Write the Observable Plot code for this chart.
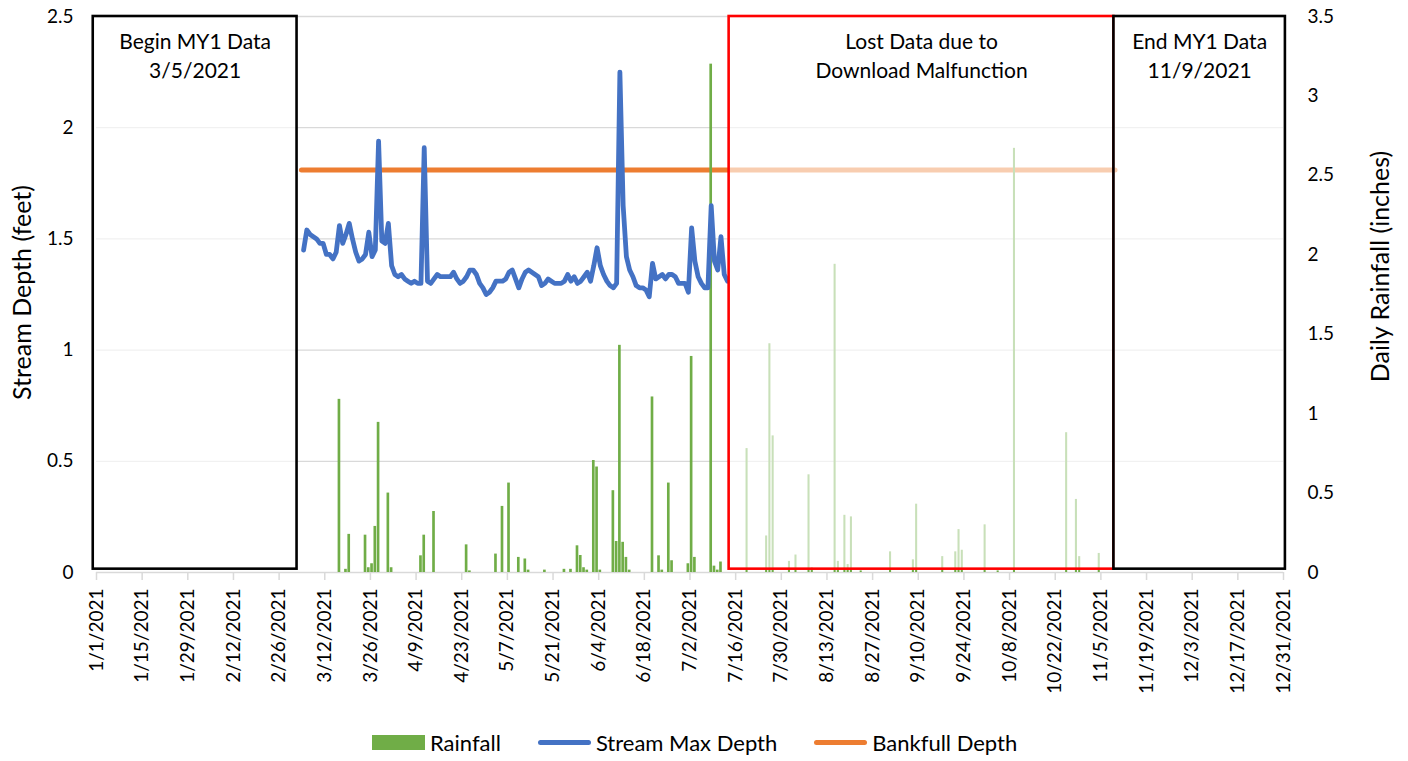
<!DOCTYPE html>
<html>
<head>
<meta charset="utf-8">
<script src="https://cdn.jsdelivr.net/npm/d3@7"></script>
<script src="https://cdn.jsdelivr.net/npm/@observablehq/plot@0.6"></script>
<style>
  html, body { margin: 0; padding: 0; background: #fff; }
  #wrap { position: relative; width: 1408px; height: 761px; font-family: Lato, "Noto Sans", sans-serif; color: #000; }
  #legend { position: absolute; top: 728px; left: 372px; display: flex; align-items: center; height: 28px; font-size: 22px; }
  #legend .sw { display: inline-block; }
  #legend .lab { margin-left: 5px; margin-right: 37px; }
</style>
</head>
<body>
<div id="wrap"><div id="chart"></div><div id="legend"></div></div>
<script>
// ---------------- DATA ----------------
const seriesNames = ["Rainfall", "Stream Max Depth", "Bankfull Depth"];
const seriesColors = ["#70AD47", "#4472C4", "#ED7D31"];

// Stream max depth (feet), daily from 3/5/2021
const depthStart = "2021-03-05";
const depthValues = [
  1.45, 1.54, 1.52, 1.51, 1.50, 1.48, 1.48, 1.43, 1.43, 1.41,
  1.44, 1.56, 1.48, 1.52, 1.57, 1.50, 1.44, 1.40, 1.41, 1.43,
  1.53, 1.42, 1.45, 1.94, 1.49, 1.48, 1.57, 1.38, 1.34, 1.33,
  1.34, 1.32, 1.31, 1.30, 1.31, 1.30, 1.30, 1.91, 1.31, 1.30,
  1.32, 1.34, 1.33, 1.33, 1.33, 1.33, 1.35, 1.32, 1.30, 1.31,
  1.33, 1.36, 1.36, 1.34, 1.30, 1.28, 1.25, 1.26, 1.28, 1.31,
  1.31, 1.31, 1.32, 1.35, 1.36, 1.32, 1.28, 1.32, 1.35, 1.36,
  1.35, 1.34, 1.33, 1.29, 1.30, 1.32, 1.31, 1.30, 1.30, 1.30,
  1.31, 1.34, 1.31, 1.33, 1.30, 1.31, 1.33, 1.35, 1.31, 1.38,
  1.46, 1.38, 1.34, 1.31, 1.29, 1.28, 1.30, 2.25, 1.65, 1.42,
  1.36, 1.33, 1.29, 1.28, 1.28, 1.27, 1.24, 1.39, 1.32, 1.33,
  1.34, 1.32, 1.34, 1.34, 1.33, 1.30, 1.30, 1.30, 1.26, 1.55,
  1.40, 1.33, 1.30, 1.28, 1.28, 1.65, 1.40, 1.36, 1.51, 1.34,
  1.31
];

// Daily rainfall (inches), recorded period
const rainDates = [
  "2021-03-16", "2021-03-18", "2021-03-19", "2021-03-24", "2021-03-25", "2021-03-26", "2021-03-27", "2021-03-28",
  "2021-03-31", "2021-04-01", "2021-04-10", "2021-04-11", "2021-04-14", "2021-04-24", "2021-04-25",
  "2021-05-03", "2021-05-05", "2021-05-07", "2021-05-10", "2021-05-12", "2021-05-13", "2021-05-18",
  "2021-05-24", "2021-05-26", "2021-05-28", "2021-05-29", "2021-05-30", "2021-05-31",
  "2021-06-02", "2021-06-03", "2021-06-04", "2021-06-08", "2021-06-09", "2021-06-10", "2021-06-11",
  "2021-06-12", "2021-06-13", "2021-06-20", "2021-06-22", "2021-06-23", "2021-06-25", "2021-06-26",
  "2021-07-01", "2021-07-02", "2021-07-03", "2021-07-08", "2021-07-09", "2021-07-10", "2021-07-11"
];
const rainValues = [
  1.09, 0.02, 0.24, 0.235, 0.03, 0.055, 0.29, 0.945,
  0.50, 0.03, 0.105, 0.235, 0.384, 0.174, 0.01,
  0.116, 0.416, 0.563, 0.095, 0.085, 0.015, 0.015,
  0.02, 0.02, 0.168, 0.107, 0.03, 0.015,
  0.705, 0.664, 0.015, 0.515, 0.195, 1.43, 0.19,
  0.095, 0.015, 1.105, 0.105, 0.015, 0.563, 0.074,
  0.055, 1.36, 0.095, 3.20, 0.04, 0.015, 0.066
];

// Daily rainfall (inches), lost-data period (shown faded)
const lostRainDates = [
  "2021-07-19", "2021-07-25", "2021-07-26", "2021-07-27", "2021-08-01", "2021-08-03", "2021-08-07", "2021-08-08",
  "2021-08-15", "2021-08-16", "2021-08-18", "2021-08-19", "2021-08-20", "2021-08-23", "2021-09-01",
  "2021-09-08", "2021-09-09", "2021-09-17", "2021-09-21", "2021-09-22", "2021-09-23", "2021-09-30",
  "2021-10-04", "2021-10-09", "2021-10-25", "2021-10-28", "2021-10-29", "2021-11-04"
];
const lostRainValues = [
  0.78, 0.23, 1.44, 0.86, 0.07, 0.11, 0.615, 0.03,
  1.94, 0.07, 0.36, 0.05, 0.35, 0.01, 0.13,
  0.08, 0.43, 0.10, 0.13, 0.27, 0.14, 0.30,
  0.01, 2.67, 0.88, 0.46, 0.10, 0.12
];

const bankfullDepth = 1.81;
const bankfullStart = "2021-03-05";
const bankfullEnd = "2021-11-09";

const xTickLabels = [
  "1/1/2021", "1/15/2021", "1/29/2021", "2/12/2021", "2/26/2021", "3/12/2021", "3/26/2021",
  "4/9/2021", "4/23/2021", "5/7/2021", "5/21/2021", "6/4/2021", "6/18/2021", "7/2/2021",
  "7/16/2021", "7/30/2021", "8/13/2021", "8/27/2021", "9/10/2021", "9/24/2021", "10/8/2021",
  "10/22/2021", "11/5/2021", "11/19/2021", "12/3/2021", "12/17/2021", "12/31/2021"
];
const leftTicks = [0, 0.5, 1, 1.5, 2, 2.5];
const rightTicks = [0, 0.5, 1, 1.5, 2, 2.5, 3, 3.5];
const depthMax = 2.5;
const rainMax = 3.5;

const boxLabels = ["Begin MY1 Data\n3/5/2021", "Lost Data due to\nDownload Malfunction", "End MY1 Data\n11/9/2021"];
const boxStarts = ["2020-12-31T00:00Z", "2021-07-14T00:00Z", "2021-11-09T00:00Z"];
const boxEnds = ["2021-03-03T12:00Z", "2021-11-09T00:00Z", "2021-12-31T14:00Z"];
const boxColors = ["#000000", "#FF0000", "#000000"];

const axisTitles = ["Stream Depth (feet)", "Daily Rainfall (inches)"];

// ---------------- BUILD ----------------
const DAY = 864e5;
const parseDate = s => new Date(s.length === 10 ? s + "T00:00Z" : s);
const parseLabel = s => { const [m, d, y] = s.split("/").map(Number); return new Date(Date.UTC(y, m - 1, d)); };
const fmtLabel = d => `${d.getUTCMonth() + 1}/${d.getUTCDate()}/${d.getUTCFullYear()}`;
const k = depthMax / rainMax; // rainfall -> left-axis units

const depth = depthValues.map((v, i) => ({ date: new Date(+parseDate(depthStart) + i * DAY + DAY / 2), v }));
const rain = rainDates.map((s, i) => ({ d0: parseDate(s), d1: new Date(+parseDate(s) + DAY), v: rainValues[i] * k }));
const lost = lostRainDates.map((s, i) => ({ d0: parseDate(s), d1: new Date(+parseDate(s) + DAY), v: lostRainValues[i] * k }));
const boxes = boxLabels.map((t, i) => ({
  text: t, x1: parseDate(boxStarts[i]), x2: parseDate(boxEnds[i]),
  xm: new Date((+parseDate(boxStarts[i]) + +parseDate(boxEnds[i])) / 2), color: boxColors[i]
}));
const xTicks = xTickLabels.map(parseLabel);

const grid = "#d9d9d9";

const chart = Plot.plot({
  width: 1408,
  height: 705,
  marginLeft: 96,
  marginRight: 125,
  marginTop: 16,
  marginBottom: 133,
  style: { fontFamily: "Lato, 'Noto Sans', sans-serif", color: "#000", background: "#fff" },
  x: { type: "utc", domain: [parseLabel(xTickLabels[0]), parseLabel(xTickLabels[xTickLabels.length - 1])] },
  y: { domain: [0, depthMax] },
  marks: [
    Plot.ruleY(leftTicks.filter(d => d > 0), { stroke: grid, strokeWidth: 1.3 }),
    Plot.ruleY([0], { stroke: grid, strokeWidth: 1.5 }),
    Plot.axisX(xTicks, {
      tickFormat: fmtLabel, tickRotate: -90, tickSize: 8, tickPadding: 8,
      stroke: grid, strokeWidth: 1.5, fill: "#000", fontSize: 19, label: null
    }),
    Plot.axisY(leftTicks, { anchor: "left", tickSize: 0, tickPadding: 23, fontSize: 19, fill: "#000", label: null, tickFormat: d => String(d) }),
    Plot.axisY(rightTicks.map(v => v * k), {
      anchor: "right", tickSize: 0, tickPadding: 24, fontSize: 19, fill: "#000", label: null,
      tickFormat: d => String(+(d / k).toFixed(2))
    }),
    Plot.ruleY([bankfullDepth], {
      x1: parseDate(bankfullStart), x2: new Date(+parseDate(bankfullEnd) + DAY / 2),
      stroke: seriesColors[2], strokeWidth: 5, strokeLinecap: "round"
    }),
    Plot.rectY(rain, { x1: "d0", x2: "d1", y: "v", fill: seriesColors[0], insetLeft: 0.3, insetRight: 0.3 }),
    Plot.rectY(lost, { x1: "d0", x2: "d1", y: "v", fill: seriesColors[0], insetLeft: 0.6, insetRight: 0.6 }),
    Plot.lineY(depth, { x: "date", y: "v", stroke: seriesColors[1], strokeWidth: 4.8, strokeLinejoin: "round", strokeLinecap: "round" }),
    Plot.rect(boxes, {
      x1: "x1", x2: "x2", y1: 0.015, y2: depthMax,
      fill: "#fff", fillOpacity: 0.62, stroke: "color", strokeWidth: 2.6
    }),
    Plot.text(boxes, {
      x: "xm", y: depthMax, text: "text", lineAnchor: "top", dy: 11, lineHeight: 1.42,
      fontSize: 21, fill: "#000"
    }),
    Plot.text([axisTitles[0]], { frameAnchor: "left", textAnchor: "middle", dx: -74, dy: -2, rotate: -90, fontSize: 25, fill: "#000" }),
    Plot.text([axisTitles[1]], { frameAnchor: "right", textAnchor: "middle", dx: 97, dy: -28, rotate: -90, fontSize: 25, fill: "#000" })
  ]
});
document.getElementById("chart").appendChild(chart);

// legend
const legend = document.getElementById("legend");
seriesNames.forEach((name, i) => {
  const sw = document.createElement("span");
  sw.className = "sw";
  sw.style.width = "53px";
  sw.style.background = seriesColors[i];
  if (i === 0) { sw.style.height = "15px"; }
  else { sw.style.height = "5px"; sw.style.borderRadius = "3px"; }
  const lab = document.createElement("span");
  lab.className = "lab";
  lab.textContent = name;
  legend.appendChild(sw);
  legend.appendChild(lab);
});
</script>
</body>
</html>
